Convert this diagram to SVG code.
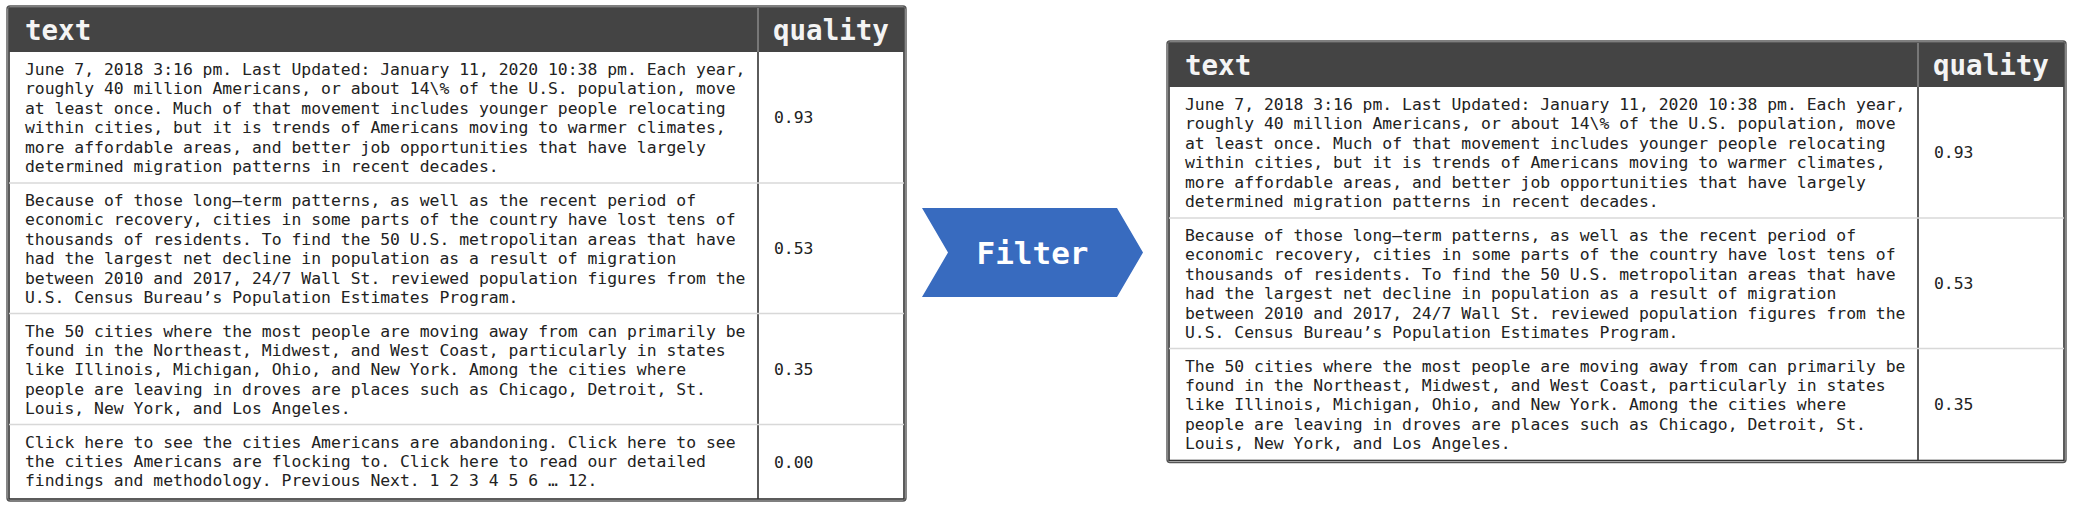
<svg xmlns="http://www.w3.org/2000/svg" width="2078" height="508" viewBox="0 0 2078 508">
<style>
.outer{fill:none;stroke:#555;stroke-width:1.4}
.inner{fill:#fff;stroke:#333;stroke-width:1.6}
.hdr{fill:#444}
.hdrtxt{font-family:"DejaVu Sans Mono",monospace;font-weight:bold;font-size:27.5px;fill:#f4f4f4}
.cell{font-family:"DejaVu Sans Mono",monospace;font-size:16.4px;fill:#222}
.sep{stroke:#d8d8d8;stroke-width:1.5}
.coldiv{stroke:#333;stroke-width:1.6}
.coldivh{stroke:#9a9a9a;stroke-width:1.2}
.arrow{fill:#386bbf}
.arrowtxt{font-family:"DejaVu Sans Mono",monospace;font-weight:bold;font-size:31px;fill:#fff}
</style>
<g id="input-table">
<rect class="outer" x="7" y="6" width="899" height="495" rx="3"/>
<rect class="inner" x="9" y="8" width="895" height="491"/>
<rect class="hdr" x="9" y="8" width="895" height="44"/>
<line class="coldivh" x1="758" y1="8" x2="758" y2="52"/>
<line class="coldiv" x1="758" y1="52" x2="758" y2="499"/>
<line class="sep" x1="9" y1="183" x2="904" y2="183"/>
<line class="sep" x1="9" y1="313.5" x2="904" y2="313.5"/>
<line class="sep" x1="9" y1="424.5" x2="904" y2="424.5"/>
<text class="hdrtxt" x="25" y="40">text</text>
<text class="hdrtxt" x="773" y="40">quality</text>
<text class="cell" x="25" y="75"><tspan x="25">June 7, 2018 3:16 pm. Last Updated: January 11, 2020 10:38 pm. Each year,</tspan><tspan x="25" dy="19.4">roughly 40 million Americans, or about 14\% of the U.S. population, move</tspan><tspan x="25" dy="19.4">at least once. Much of that movement includes younger people relocating</tspan><tspan x="25" dy="19.4">within cities, but it is trends of Americans moving to warmer climates,</tspan><tspan x="25" dy="19.4">more affordable areas, and better job opportunities that have largely</tspan><tspan x="25" dy="19.4">determined migration patterns in recent decades.</tspan></text>
<text class="cell" x="25" y="206"><tspan x="25">Because of those long–term patterns, as well as the recent period of</tspan><tspan x="25" dy="19.4">economic recovery, cities in some parts of the country have lost tens of</tspan><tspan x="25" dy="19.4">thousands of residents. To find the 50 U.S. metropolitan areas that have</tspan><tspan x="25" dy="19.4">had the largest net decline in population as a result of migration</tspan><tspan x="25" dy="19.4">between 2010 and 2017, 24/7 Wall St. reviewed population figures from the</tspan><tspan x="25" dy="19.4">U.S. Census Bureau’s Population Estimates Program.</tspan></text>
<text class="cell" x="25" y="336.5"><tspan x="25">The 50 cities where the most people are moving away from can primarily be</tspan><tspan x="25" dy="19.4">found in the Northeast, Midwest, and West Coast, particularly in states</tspan><tspan x="25" dy="19.4">like Illinois, Michigan, Ohio, and New York. Among the cities where</tspan><tspan x="25" dy="19.4">people are leaving in droves are places such as Chicago, Detroit, St.</tspan><tspan x="25" dy="19.4">Louis, New York, and Los Angeles.</tspan></text>
<text class="cell" x="25" y="447.5"><tspan x="25">Click here to see the cities Americans are abandoning. Click here to see</tspan><tspan x="25" dy="19.4">the cities Americans are flocking to. Click here to read our detailed</tspan><tspan x="25" dy="19.4">findings and methodology. Previous Next. 1 2 3 4 5 6 … 12.</tspan></text>
<text class="cell" x="774" y="123.3">0.93</text>
<text class="cell" x="774" y="254">0.53</text>
<text class="cell" x="774" y="374.8">0.35</text>
<text class="cell" x="774" y="467.5">0.00</text>
</g>
<g id="connectors">
<g id="filter">
<polygon class="arrow" points="922,208 1117,208 1143,252.5 1117,297 922,297 948,252.5"/>
<text class="arrowtxt" x="1032.5" y="264" text-anchor="middle">Filter</text>
</g>
</g>
<g id="output-table" transform="translate(1160,35)">
<rect class="outer" x="7" y="6" width="899" height="421.5" rx="3"/>
<rect class="inner" x="9" y="8" width="895" height="417.5"/>
<rect class="hdr" x="9" y="8" width="895" height="44"/>
<line class="coldivh" x1="758" y1="8" x2="758" y2="52"/>
<line class="coldiv" x1="758" y1="52" x2="758" y2="425.5"/>
<line class="sep" x1="9" y1="183" x2="904" y2="183"/>
<line class="sep" x1="9" y1="313.5" x2="904" y2="313.5"/>
<text class="hdrtxt" x="25" y="40">text</text>
<text class="hdrtxt" x="773" y="40">quality</text>
<text class="cell" x="25" y="75"><tspan x="25">June 7, 2018 3:16 pm. Last Updated: January 11, 2020 10:38 pm. Each year,</tspan><tspan x="25" dy="19.4">roughly 40 million Americans, or about 14\% of the U.S. population, move</tspan><tspan x="25" dy="19.4">at least once. Much of that movement includes younger people relocating</tspan><tspan x="25" dy="19.4">within cities, but it is trends of Americans moving to warmer climates,</tspan><tspan x="25" dy="19.4">more affordable areas, and better job opportunities that have largely</tspan><tspan x="25" dy="19.4">determined migration patterns in recent decades.</tspan></text>
<text class="cell" x="25" y="206"><tspan x="25">Because of those long–term patterns, as well as the recent period of</tspan><tspan x="25" dy="19.4">economic recovery, cities in some parts of the country have lost tens of</tspan><tspan x="25" dy="19.4">thousands of residents. To find the 50 U.S. metropolitan areas that have</tspan><tspan x="25" dy="19.4">had the largest net decline in population as a result of migration</tspan><tspan x="25" dy="19.4">between 2010 and 2017, 24/7 Wall St. reviewed population figures from the</tspan><tspan x="25" dy="19.4">U.S. Census Bureau’s Population Estimates Program.</tspan></text>
<text class="cell" x="25" y="336.5"><tspan x="25">The 50 cities where the most people are moving away from can primarily be</tspan><tspan x="25" dy="19.4">found in the Northeast, Midwest, and West Coast, particularly in states</tspan><tspan x="25" dy="19.4">like Illinois, Michigan, Ohio, and New York. Among the cities where</tspan><tspan x="25" dy="19.4">people are leaving in droves are places such as Chicago, Detroit, St.</tspan><tspan x="25" dy="19.4">Louis, New York, and Los Angeles.</tspan></text>
<text class="cell" x="774" y="123.3">0.93</text>
<text class="cell" x="774" y="254">0.53</text>
<text class="cell" x="774" y="374.8">0.35</text>
</g>
</svg>
